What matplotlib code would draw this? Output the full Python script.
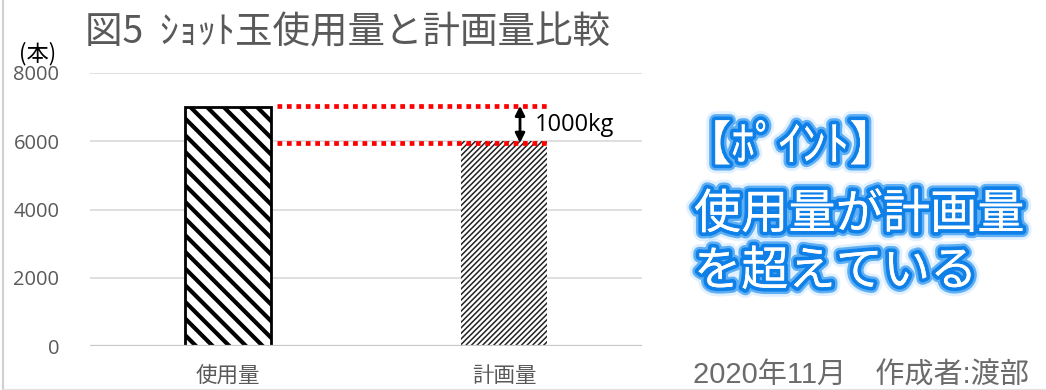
import matplotlib
matplotlib.use("Agg")
import matplotlib.pyplot as plt
import matplotlib.patheffects as pe
from matplotlib.lines import Line2D

plt.rcParams['font.family'] = ['Noto Sans CJK JP', 'DejaVu Sans']

# Data
categories = ['使用量', '計画量']
values = [7000, 6000]
yticks = [0, 2000, 4000, 6000, 8000]
diff_label = '1000kg'
title = '図5  ｼｮｯﾄ玉使用量と計画量比較'
unit = '(本)'
point_lines = ['【ﾎﾟｲﾝﾄ】', '使用量が計画量', 'を超えている']
footer = '2020年11月　作成者:渡部'

W, H = 1046, 390
fig = plt.figure(figsize=(W / 100, H / 100), dpi=100)
ax = fig.add_axes([90 / W, 1 - 346 / H, (642 - 90) / W, (346 - 73) / H])

x = list(range(len(categories)))
bw = 0.315

# used amount: bold wide stripes with black border
b1 = ax.bar(x[0], values[0], width=bw, facecolor='white', edgecolor='black',
            linewidth=2, hatch='\\\\', zorder=3)[0]
b1.set_hatch_linewidth(3.0)
# planned amount: fine diagonal stripes, no border
b2 = ax.bar(x[1], values[1], width=bw, facecolor='white', edgecolor='#222222',
            linewidth=0, hatch='//////', zorder=3)[0]
b2.set_hatch_linewidth(1.1)

ax.set_xlim(-0.5, 1.5)
ax.set_ylim(0, 8000)
ax.set_yticks(yticks)
ax.set_yticklabels([str(v) for v in yticks], color='#595959', fontsize=14.5,
                   family=['Open Sans', 'DejaVu Sans'])
ax.set_xticks(x)
ax.set_xticklabels(categories, color='#595959', fontsize=15.5)
ax.tick_params(axis='both', length=0)
ax.tick_params(axis='y', pad=22)
ax.tick_params(axis='x', pad=14)
for s in ax.spines.values():
    s.set_visible(False)
ax.grid(axis='y', color='#d9d9d9', linewidth=1.2, zorder=0)
ax.set_axisbelow(True)
ax.axhline(0, color='#c8c8c8', linewidth=1.6, zorder=4)

# red dotted reference lines at both levels
x0 = x[0] + bw / 2 + 0.02
x1 = x[1] + bw / 2
for v in (values[0] + 40, values[1] - 50):
    ax.plot([x0, x1], [v, v], color='#ff0000', linewidth=3.4,
            linestyle=(0, (1.0, 1.0)), solid_capstyle='butt', zorder=5)

# difference arrow and label
xa = 1.058
ax.annotate('', xy=(xa, values[1] - 50), xytext=(xa, values[0] + 40),
            arrowprops=dict(arrowstyle='<|-|>', color='black', lw=2,
                            mutation_scale=14, shrinkA=0, shrinkB=0), zorder=6)
ax.text(1.11, (values[0] + values[1]) / 2 - 30, diff_label, fontsize=17,
        family=['Open Sans', 'DejaVu Sans'], color='black', va='center',
        ha='left', zorder=6)

# title and unit
fig.text(85 / W, 1 - 33 / H, title, fontsize=27, color='#595959',
         va='center', ha='left')
fig.text(19 / W, 1 - 54 / H, unit, fontsize=16, color='black',
         va='center', ha='left')

# highlighted note with blue glow
glow = [pe.withStroke(linewidth=13, foreground='#a8d4ff', alpha=0.35),
        pe.withStroke(linewidth=9, foreground='#3d9ff2', alpha=0.8),
        pe.withStroke(linewidth=5.5, foreground='#0f80e8'),
        pe.Normal()]
for txt, xl, yc in zip(point_lines, (684, 694, 694), (147, 215, 272)):
    fig.text(xl / W, 1 - yc / H, txt, fontsize=34, color='white',
             va='center', ha='left', path_effects=glow)

fig.text(1029 / W, 1 - 376 / H, footer, fontsize=21, color='#6b6b6b',
         va='center', ha='right', family=['Liberation Sans', 'Noto Sans CJK JP'])

# chart frame edges
fig.add_artist(Line2D([2.5 / W, 2.5 / W], [1 / H, 1], color='#d0d0d0', lw=1.5))
fig.add_artist(Line2D([2.5 / W, 1], [1 / H, 1 / H], color='#e4e4e4', lw=1))

fig.savefig('out.png', dpi=100)
